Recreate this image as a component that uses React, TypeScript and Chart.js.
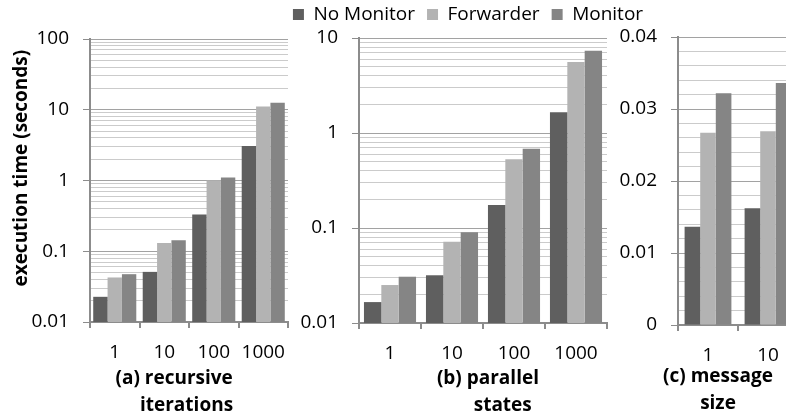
import { useEffect, useRef } from 'react';
import { Chart, registerables } from 'chart.js';
Chart.register(...registerables);

const seriesNames = ['No Monitor', 'Forwarder', 'Monitor'];
const seriesColors = ['#5f5f5f', '#b3b3b3', '#858585'];

const aCategories = ['1', '10', '100', '1000'];
const aNoMonitor = [0.0227, 0.0511, 0.332, 3.08];
const aForwarder = [0.0426, 0.131, 1.0, 11.1];
const aMonitor = [0.0474, 0.143, 1.1, 12.6];
const aTickLabels = [0.01, 0.1, 1, 10, 100];

const bCategories = ['1', '10', '100', '1000'];
const bNoMonitor = [0.0166, 0.0318, 0.175, 1.65];
const bForwarder = [0.0251, 0.0718, 0.528, 5.6];
const bMonitor = [0.0307, 0.09, 0.684, 7.35];
const bTickLabels = [0.01, 0.1, 1, 10];

const cCategories = ['1', '10'];
const cNoMonitor = [0.01365, 0.0162];
const cForwarder = [0.0267, 0.0269];
const cMonitor = [0.0322, 0.0336];
const cTickLabels = [0, 0.01, 0.02, 0.03, 0.04];
const cMinorStep = 0.002;
const cTitleLines = ['(c) message', 'size'];

const FONT = "'Open Sans', sans-serif";
const AXIS = '#8c8c8c';
const MAJOR = '#a2a2a2';
const MINOR = '#cbcbcb';

Chart.defaults.font.family = FONT;
Chart.defaults.font.size = 19;
Chart.defaults.color = '#000';

function isMajor(v: number, majors: number[]) {
  return majors.some((m) => Math.abs(v - m) <= Math.max(Math.abs(m), 1e-6) * 1e-6);
}

function logTickValues(majors: number[]) {
  const out: number[] = [];
  for (let i = 0; i < majors.length; i++) {
    out.push(majors[i]);
    if (i < majors.length - 1) for (let k = 2; k <= 9; k++) out.push(majors[i] * k);
  }
  return out.sort((a, b) => a - b);
}

function linTickValues(majors: number[], step: number) {
  const out: number[] = [];
  const lo = majors[0];
  const hi = majors[majors.length - 1];
  const n = Math.round((hi - lo) / step);
  for (let i = 0; i <= n; i++) out.push(+(lo + i * step).toFixed(6));
  return out;
}

// draws a two-line axis caption below the x axis (used where the caption is wider than the plot)
const captionPlugin = {
  id: 'caption',
  afterDraw(chart: any, _args: any, opts: any) {
    if (!opts || !opts.lines) return;
    const xs = chart.scales.x;
    const ctx = chart.ctx;
    const cx = (xs.left + xs.right) / 2 + (opts.dx || 0);
    ctx.save();
    ctx.font = `bold 19px ${FONT}`;
    ctx.fillStyle = '#000';
    ctx.textAlign = 'center';
    ctx.textBaseline = 'middle';
    opts.lines.forEach((t: string, i: number) => {
      ctx.fillText(t, cx, xs.bottom - opts.firstFromBottom + opts.lineGap * i);
    });
    ctx.restore();
  },
};

type Panel = {
  cats: string[];
  series: number[][];
  majors: number[];
  log: boolean;
  step?: number;
  padL: number;
  padR: number;
  padT: number;
  xHeight: number;
  catPct: number;
  xTitle?: string[];
  caption?: any;
  yTitle?: string;
};

function makeConfig(p: Panel): any {
  const tickVals = p.log ? logTickValues(p.majors) : linTickValues(p.majors, p.step as number);
  const yScale: any = {
    type: p.log ? 'logarithmic' : 'linear',
    min: p.majors[0],
    max: p.majors[p.majors.length - 1],
    afterBuildTicks: (scale: any) => {
      scale.ticks = tickVals.map((v) => ({ value: v }));
    },
    afterFit: (scale: any) => {
      scale.width = 90;
    },
    ticks: {
      autoSkip: false,
      padding: 14,
      font: { size: 19, family: FONT },
      color: '#000',
      callback: (v: any) => (isMajor(Number(v), p.majors) ? String(+Number(v).toPrecision(6)) : ''),
    },
    grid: {
      color: (ctx: any) => (ctx.tick && isMajor(ctx.tick.value, p.majors) ? MAJOR : MINOR),
      lineWidth: 1,
      tickLength: 7,
      tickColor: (ctx: any) => (ctx.tick && isMajor(ctx.tick.value, p.majors) ? AXIS : 'rgba(0,0,0,0)'),
    },
    border: { color: AXIS, width: 2 },
  };
  if (p.yTitle) {
    yScale.title = {
      display: true,
      text: p.yTitle,
      font: { size: 19, weight: 'bold', family: FONT },
      color: '#000',
      padding: { top: 10, bottom: 0 },
    };
  }
  return {
    type: 'bar',
    data: {
      labels: p.cats,
      datasets: p.series.map((d, i) => ({
        label: seriesNames[i],
        data: d,
        backgroundColor: seriesColors[i],
        borderWidth: 0,
        barPercentage: 1,
        categoryPercentage: p.catPct,
      })),
    },
    plugins: [captionPlugin],
    options: {
      responsive: false,
      animation: false,
      layout: { padding: { left: p.padL, right: p.padR, top: p.padT, bottom: 0 } },
      plugins: {
        legend: { display: false },
        tooltip: { enabled: false },
        caption: p.caption || {},
      },
      scales: {
        x: {
          afterFit: (scale: any) => {
            scale.height = p.xHeight;
          },
          ticks: {
            autoSkip: false,
            maxRotation: 0,
            minRotation: 0,
            padding: 13,
            font: { size: 19, family: FONT },
            color: '#000',
          },
          grid: { drawOnChartArea: false, tickLength: 6, color: AXIS, lineWidth: 2, offset: true },
          border: { color: AXIS, width: 2 },
          title: {
            display: !!p.xTitle,
            text: p.xTitle || '',
            font: { size: 19, weight: 'bold', family: FONT, lineHeight: 27 / 19 },
            color: '#000',
            padding: { top: 0, bottom: -2 },
          },
        },
        y: yScale,
      },
    },
  };
}

const panels: Panel[] = [
  {
    cats: aCategories,
    series: [aNoMonitor, aForwarder, aMonitor],
    majors: aTickLabels,
    log: true,
    padL: 0,
    padR: 786 - 288,
    padT: 39,
    xHeight: 95,
    catPct: 0.87,
    xTitle: ['(a) recursive      ', 'iterations '],
    yTitle: '     execution time (seconds)',
  },
  {
    cats: bCategories,
    series: [bNoMonitor, bForwarder, bMonitor],
    majors: bTickLabels,
    log: true,
    padL: 359 - 90,
    padR: 786 - 607,
    padT: 38,
    xHeight: 94,
    catPct: 0.84,
    xTitle: ['  (b) parallel', '        states'],
  },
  {
    cats: cCategories,
    series: [cNoMonitor, cForwarder, cMonitor],
    majors: cTickLabels,
    log: false,
    step: cMinorStep,
    padL: 678 - 90,
    padR: 900 - 798,
    padT: 37,
    xHeight: 92,
    catPct: 0.78,
    caption: { lines: cTitleLines, dx: -20, firstFromBottom: 40, lineGap: 26.5 },
  },
];

export default function App() {
  const refA = useRef<HTMLCanvasElement>(null);
  const refB = useRef<HTMLCanvasElement>(null);
  const refC = useRef<HTMLCanvasElement>(null);
  const refL = useRef<HTMLCanvasElement>(null);

  useEffect(() => {
    const charts: Chart[] = [];
    const refs = [refA, refB, refC];
    panels.forEach((p, i) => {
      const c = refs[i].current;
      if (c) charts.push(new Chart(c, makeConfig(p)));
    });
    if (refL.current) {
      charts.push(
        new Chart(refL.current, {
          type: 'bar',
          data: {
            labels: [],
            datasets: seriesNames.map((n, i) => ({
              label: n,
              data: [],
              backgroundColor: seriesColors[i],
              borderWidth: 0,
            })),
          },
          options: {
            responsive: false,
            animation: false,
            layout: { padding: { left: 150, right: 0, top: 0, bottom: 0 } },
            scales: { x: { display: false }, y: { display: false } },
            plugins: {
              tooltip: { enabled: false },
              legend: {
                display: true,
                position: 'top',
                labels: {
                  boxWidth: 11,
                  boxHeight: 11,
                  padding: 12,
                  color: '#000',
                  font: { size: 19, family: FONT },
                },
              },
            },
          },
        } as any)
      );
    }
    return () => charts.forEach((c) => c.destroy());
  }, []);

  const abs: any = { position: 'absolute', left: 0, top: 0, display: 'block' };
  return (
    <div
      style={{
        position: 'absolute',
        left: 0,
        top: 0,
        width: 786,
        height: 417,
        overflow: 'hidden',
        background: '#fff',
      }}
    >
      <canvas ref={refA} width={786} height={417} style={abs} />
      <canvas ref={refB} width={786} height={417} style={abs} />
      <canvas ref={refC} width={900} height={417} style={abs} />
      <canvas ref={refL} width={786} height={120} style={{ ...abs, top: -7 }} />
    </div>
  );
}
